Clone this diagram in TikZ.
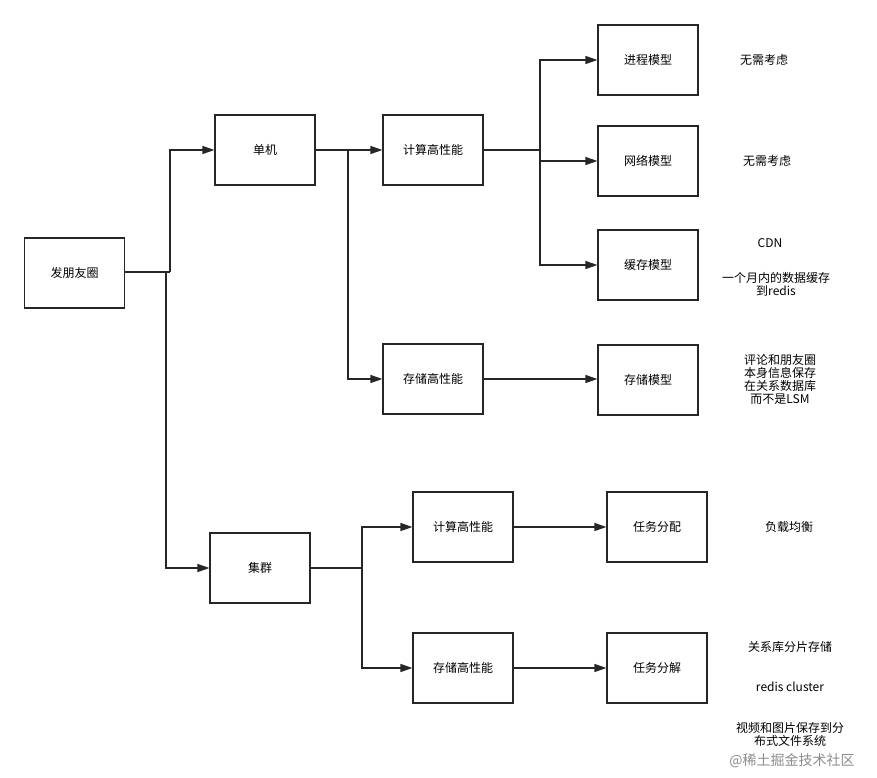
\documentclass[tikz,border=0pt]{standalone}
\usepackage{fontspec}
\setmainfont{Noto Sans CJK SC}
\usetikzlibrary{arrows.meta}
\begin{document}
\begin{tikzpicture}[x=1pt,y=-1pt,
  box/.style={draw=black!85,line width=1.2pt,minimum width=100pt,minimum height=70pt,inner sep=0pt,font=\fontsize{12}{14}\selectfont},
  lab/.style={font=\fontsize{12}{14}\selectfont,align=center,inner sep=0pt},
  conn/.style={draw=black!85,line width=1.3pt},
  arr/.style={conn,-{Triangle[length=12pt,width=8pt]}}]
\useasboundingbox (0,0) rectangle (877,778);
\node[box] (root) at (74.5,273) {发朋友圈};
\node[box] (dj) at (265,150) {单机};
\node[box] (jq) at (260,568) {集群};
\node[box] (js1) at (433,150) {计算高性能};
\node[box] (cc1) at (433,379) {存储高性能};
\node[box] (jc) at (648,60) {进程模型};
\node[box] (wl) at (648,161) {网络模型};
\node[box] (hc) at (648,265) {缓存模型};
\node[box] (ccm) at (648,380) {存储模型};
\node[box] (js2) at (463,527) {计算高性能};
\node[box] (cc2) at (463,668) {存储高性能};
\node[box] (fp) at (657,527) {任务分配};
\node[box] (fj) at (657,668) {任务分解};
\coordinate (r1) at (170,272);
\coordinate (r2) at (166,272);
\draw[conn] (root.east |- r1) -- (r1);
\draw[arr] (r1) |- (dj.west);
\draw[arr] (r2) |- (jq.west);
\coordinate (d1) at (348,150);
\draw[arr] (dj.east) -- (js1.west);
\draw[arr] (d1) |- (cc1.west);
\coordinate (c1) at (540,150);
\draw[conn] (js1.east) -- (c1);
\draw[arr] (c1) |- (jc.west);
\draw[arr] (c1) |- (wl.west);
\draw[arr] (c1) |- (hc.west);
\draw[arr] (cc1.east) -- (ccm.west |- cc1.east);
\coordinate (q1) at (362,568);
\draw[conn] (jq.east) -- (q1);
\draw[arr] (q1) |- (js2.west);
\draw[arr] (q1) |- (cc2.west);
\draw[arr] (js2.east) -- (fp.west);
\draw[arr] (cc2.east) -- (fj.west);
\node[lab] (t1) at (764,60) {无需考虑};
\node[lab] (t2) at (767,161) {无需考虑};
\node[lab] (t3) at (770,243) {CDN};
\node[lab] (t4) at (776,284.5) {一个月内的数据缓存\\[-1pt]到redis};
\node[lab] (t5) at (780,379) {评论和朋友圈\\[-1pt]本身信息保存\\[-1pt]在关系数据库\\[-1pt]而不是LSM};
\node[lab] (t6) at (789,527) {负载均衡};
\node[lab] (t7) at (790,647) {关系库分片存储};
\node[lab] (t8) at (790,687) {redis cluster};
\node[lab] (t9) at (790,734) {视频和图片保存到分\\[-1pt]布式文件系统};
\node[font=\fontsize{14}{16}\selectfont,text=black!45,inner sep=0pt] (wm) at (792,761) {@稀土掘金技术社区};
\end{tikzpicture}
\end{document}
